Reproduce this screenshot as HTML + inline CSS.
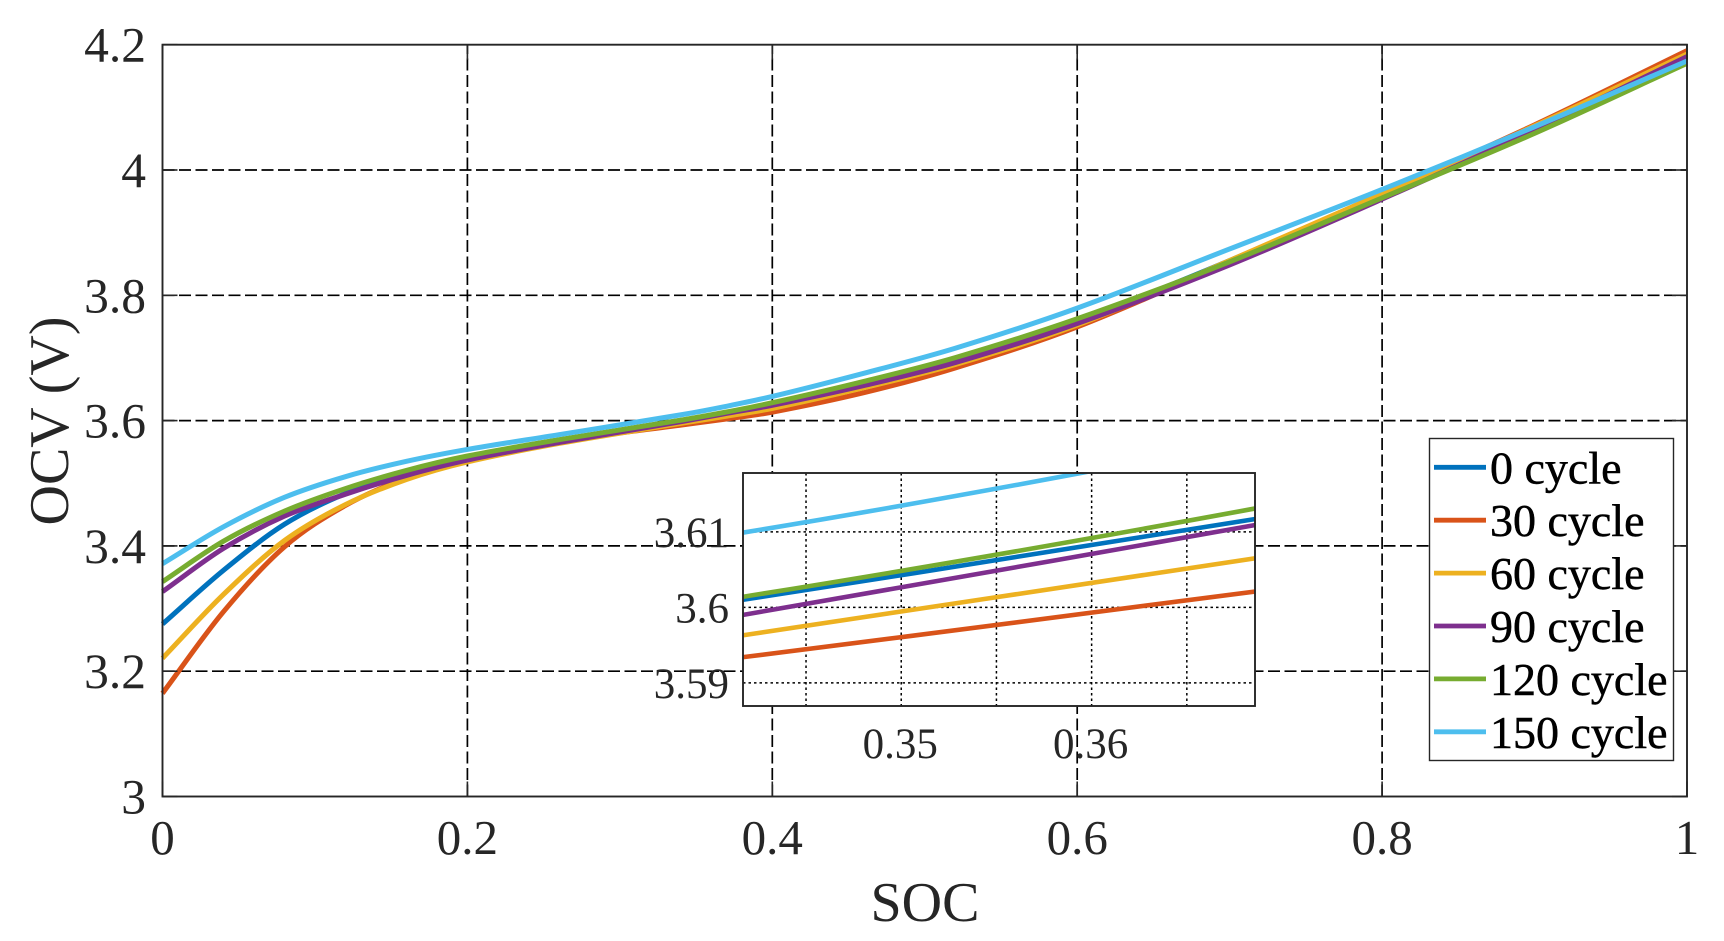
<!DOCTYPE html>
<html lang="en">
<head>
<meta charset="utf-8">
<title>OCV vs SOC</title>
<style>
html,body{margin:0;padding:0;background:#fff;width:1724px;height:935px}
svg{display:block}
text{font-family:"Liberation Serif","Times New Roman",serif}
</style>
</head>
<body>
<svg id="chart" xmlns="http://www.w3.org/2000/svg" width="1724" height="935" viewBox="0 0 1724 935" style="background:#fff">
  <defs>
    <clipPath id="inset-clip"><rect x="743" y="473" width="512" height="233"/></clipPath>
  </defs>
  <g id="main-grid"></g>
  <g id="main-series"></g>
  <g id="main-axes"></g>
  <text x="925" y="921" font-size="56" text-anchor="middle" fill="#262626">SOC</text>
  <text transform="translate(68,421) rotate(-90)" font-size="56" text-anchor="middle" fill="#262626">OCV (V)</text>
  <g id="inset"></g>
  <g id="legend"></g>
</svg>
<script>
// ---- chart data ----
const socValues = [0,0.04,0.08,0.12,0.16,0.2,0.26,0.3417,0.3686,0.4,0.46,0.52,0.6,0.7,0.8,0.9,1];
const ocvCycle0 = [3.2753,3.3610,3.4345,3.4835,3.516,3.5425,3.5685,3.601,3.6117,3.6255,3.658,3.6965,3.7585,3.8555,3.962,4.0705,4.1836];
const ocvCycle30 = [3.1647,3.295,3.3985,3.4645,3.5085,3.541,3.567,3.5934,3.6021,3.6135,3.6445,3.684,3.7495,3.8535,3.962,4.072,4.1905];
const ocvCycle60 = [3.2206,3.3225,3.4085,3.466,3.506,3.534,3.5635,3.5963,3.6065,3.6195,3.6525,3.6895,3.7525,3.8555,3.962,4.0705,4.1852];
const ocvCycle90 = [3.327,3.396,3.4475,3.4825,3.5125,3.537,3.565,3.599,3.6109,3.6245,3.656,3.6925,3.755,3.8485,3.9535,4.064,4.181];
const ocvCycle120 = [3.3429,3.4075,3.4555,3.4915,3.5205,3.5435,3.5695,3.6014,3.6131,3.6285,3.6625,3.7005,3.7625,3.8535,3.9555,4.0585,4.1703];
const ocvCycle150 = [3.3716,3.4305,3.4775,3.5105,3.535,3.554,3.5775,3.6099,3.6222,3.6385,3.6755,3.7155,3.7795,3.874,3.969,4.069,4.174];
const seriesLabels = ['0 cycle','30 cycle','60 cycle','90 cycle','120 cycle','150 cycle'];
const seriesKeys = ['cycle-0','cycle-30','cycle-60','cycle-90','cycle-120','cycle-150'];
const xTickValues = [0,0.2,0.4,0.6,0.8,1];
const xTickLabels = ['0','0.2','0.4','0.6','0.8','1'];
const yTickValues = [3,3.2,3.4,3.6,3.8,4,4.2];
const yTickLabels = ['3','3.2','3.4','3.6','3.8','4','4.2'];
const insetXTickValues = [0.345,0.35,0.355,0.36,0.365];
const insetXTickLabels = ['','0.35','','0.36',''];
const insetYTickValues = [3.59,3.6,3.61];
const insetYTickLabels = ['3.59','3.6','3.61'];

// ---- styling & layout ----
const allSeries = [ocvCycle0,ocvCycle30,ocvCycle60,ocvCycle90,ocvCycle120,ocvCycle150];
const seriesColors = ['#0072BD','#D95319','#EDB120','#7E2F8E','#77AC30','#4DBEEE'];
const NS = 'http://www.w3.org/2000/svg';
const AXIS = '#262626';
const main = {l:162.5,r:1687,t:44.7,b:796.5,x0:0,x1:1,y0:3,y1:4.2};
const inner = {l:743,r:1255,t:473,b:706,x0:0.34169,x1:0.36858,y0:3.58693,y1:3.61779};

function xMain(v){return main.l+(v-main.x0)/(main.x1-main.x0)*(main.r-main.l);}
function yMain(v){return main.b-(v-main.y0)/(main.y1-main.y0)*(main.b-main.t);}
function xInset(v){return inner.l+(v-inner.x0)/(inner.x1-inner.x0)*(inner.r-inner.l);}
function yInset(v){return inner.b-(v-inner.y0)/(inner.y1-inner.y0)*(inner.b-inner.t);}

function mk(tag,parent,attrs){
  const el=document.createElementNS(NS,tag);
  for(const k in attrs){el.setAttribute(k,attrs[k]);}
  parent.appendChild(el);
  return el;
}
function smoothPath(xs,ys,fx,fy){
  const p=xs.map((x,i)=>[fx(x),fy(ys[i])]);
  let d='M'+p[0][0].toFixed(2)+' '+p[0][1].toFixed(2);
  for(let i=0;i<p.length-1;i++){
    const a=p[Math.max(i-1,0)],b=p[i],c=p[i+1],e=p[Math.min(i+2,p.length-1)];
    const h=c[0]-b[0];
    const m1=(c[1]-a[1])/Math.max(c[0]-a[0],0.001);
    const m2=(e[1]-b[1])/Math.max(e[0]-b[0],0.001);
    d+='C'+(b[0]+h/3).toFixed(2)+' '+(b[1]+m1*h/3).toFixed(2)+' '+(c[0]-h/3).toFixed(2)+' '+(c[1]-m2*h/3).toFixed(2)+' '+c[0].toFixed(2)+' '+c[1].toFixed(2);
  }
  return d;
}

// ---- main grid ----
const gridG=document.getElementById('main-grid');
xTickValues.forEach((v,i)=>{
  if(i===0||i===xTickValues.length-1)return;
  const ln=mk('line',gridG,{x1:xMain(v),x2:xMain(v),y1:main.b,y2:main.t,stroke:'#000','stroke-width':1.7,'stroke-dasharray':'12 4.5'});
  
  
});
yTickValues.forEach((v,i)=>{
  if(i===0||i===yTickValues.length-1)return;
  const ln=mk('line',gridG,{x1:main.l,x2:main.r,y1:yMain(v),y2:yMain(v),stroke:'#000','stroke-width':1.7,'stroke-dasharray':'12 4.5'});
  
  
});

// ---- main series ----
const seriesG=document.getElementById('main-series');
allSeries.forEach((vals,i)=>{
  const path=mk('path',seriesG,{d:smoothPath(socValues,vals,xMain,yMain),fill:'none',stroke:seriesColors[i],'stroke-width':5,'stroke-linejoin':'round'});
  
  
});

// ---- main axes ----
const axG=document.getElementById('main-axes');
const frame=mk('rect',axG,{x:main.l,y:main.t,width:main.r-main.l,height:main.b-main.t,fill:'none',stroke:AXIS,'stroke-width':1.9});


xTickValues.forEach((v,i)=>{
  const x=xMain(v);
  const t1=mk('line',axG,{x1:x,x2:x,y1:main.b,y2:main.b-15,stroke:AXIS,'stroke-width':1.6});
  
  
  const t2=mk('line',axG,{x1:x,x2:x,y1:main.t,y2:main.t+15,stroke:AXIS,'stroke-width':1.6});
  
  
  const lb=mk('text',axG,{x:x,y:854,'font-size':49,'text-anchor':'middle',fill:AXIS});
  lb.textContent=xTickLabels[i];
  
  
});
yTickValues.forEach((v,i)=>{
  const y=yMain(v);
  const t1=mk('line',axG,{x1:main.l,x2:main.l+15,y1:y,y2:y,stroke:AXIS,'stroke-width':1.6});
  
  
  const t2=mk('line',axG,{x1:main.r,x2:main.r-15,y1:y,y2:y,stroke:AXIS,'stroke-width':1.6});
  
  
  const lb=mk('text',axG,{x:146,y:y+17,'font-size':49.5,'text-anchor':'end',fill:AXIS});
  lb.textContent=yTickLabels[i];
  
  
});

// ---- inset ----
const inG=document.getElementById('inset');
const inBg=mk('rect',inG,{x:inner.l,y:inner.t,width:inner.r-inner.l,height:inner.b-inner.t,fill:'#fff'});


insetXTickValues.forEach((v,i)=>{
  const x=xInset(v);
  const ln=mk('line',inG,{x1:x,x2:x,y1:inner.t,y2:inner.b,stroke:'#000','stroke-width':1.5,'stroke-dasharray':'2.5 3'});
  
  
  if(insetXTickLabels[i]){
    const lb=mk('text',inG,{x:x-1,y:758,'font-size':43,'text-anchor':'middle',fill:AXIS});
    lb.textContent=insetXTickLabels[i];
    
    
  }
});
insetYTickValues.forEach((v,i)=>{
  const y=yInset(v);
  const ln=mk('line',inG,{x1:inner.l,x2:inner.r,y1:y,y2:y,stroke:'#000','stroke-width':1.5,'stroke-dasharray':'2.5 3'});
  
  
  const lb=mk('text',inG,{x:729,y:y+15,'font-size':43,'text-anchor':'end',fill:AXIS});
  lb.textContent=insetYTickLabels[i];
  
  
});
const inClipG=mk('g',inG,{'clip-path':'url(#inset-clip)'});


allSeries.forEach((vals,i)=>{
  const path=mk('path',inClipG,{d:smoothPath(socValues,vals,xInset,yInset),fill:'none',stroke:seriesColors[i],'stroke-width':4.6});
  
  
});
const inFrame=mk('rect',inG,{x:inner.l,y:inner.t,width:inner.r-inner.l,height:inner.b-inner.t,fill:'none',stroke:AXIS,'stroke-width':1.9});



// ---- legend ----
const lgG=document.getElementById('legend');
const lgBox=mk('rect',lgG,{x:1429.5,y:438.5,width:244,height:322,fill:'#fff',stroke:AXIS,'stroke-width':1.4});


seriesLabels.forEach((s,i)=>{
  const y=467.3+i*52.9;
  const g=mk('g',lgG,{});
  
  
  const sw=mk('line',g,{x1:1434,x2:1486,y1:y,y2:y,stroke:seriesColors[i],'stroke-width':4.8});
  
  
  const tx=mk('text',g,{x:1490,y:y+16,'font-size':46,fill:'#000',stroke:'#000','stroke-width':0.5});
  tx.textContent=s;
  
  
});
</script>
</body>
</html>
